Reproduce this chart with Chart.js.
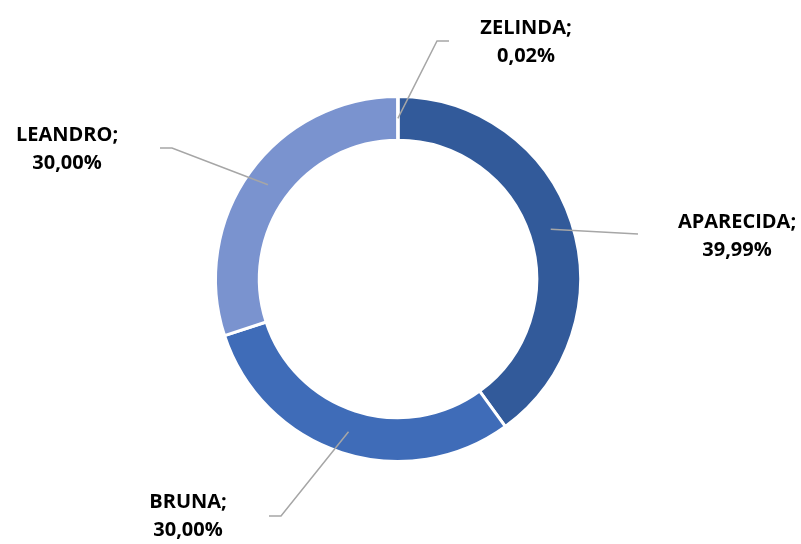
<!DOCTYPE html>
<html>
<head>
<meta charset="utf-8">
<script src="https://cdn.jsdelivr.net/npm/chart.js@4"></script>
<style>
    html, body { margin: 0; padding: 0; background: #fff; }
    #wrap { width: 801px; height: 544px; position: relative; }
</style>
</head>
<body>
<div id="wrap"><canvas id="chart"></canvas></div>
<script>
// Dados do gráfico
const nomes = ['APARECIDA', 'BRUNA', 'LEANDRO', 'ZELINDA'];
const percentuais = [39.99, 30.00, 30.00, 0.02];
const cores = ['#325A9A', '#3F6CB8', '#7A93CF', '#A9B8E0'];

// Posições dos rótulos (relativas ao centro do anel): cotovelo, fim da linha, texto
const rotulos = [
    { elbow: [240, -45], end: [240, -45], text: [339, -57], align: 'center' },
    { elbow: [-117, 237], end: [-129, 237], text: [-210, 223], align: 'center' },
    { elbow: [-226, -131], end: [-238, -131], text: [-331, -144], align: 'center' },
    { elbow: [39, -238], end: [51, -238], text: [128, -251], align: 'center' }
];

function formatPct(v) {
    return v.toFixed(2).replace('.', ',') + '%';
}

const labelsPlugin = {
    id: 'leaderLabels',
    afterDatasetsDraw(chart) {
        const ctx = chart.ctx;
        const arcs = chart.getDatasetMeta(0).data;
        ctx.save();
        arcs.forEach((arc, i) => {
            const p = arc.getProps(['x', 'y', 'startAngle', 'endAngle', 'innerRadius', 'outerRadius'], true);
            const mid = (p.startAngle + p.endAngle) / 2;
            const r = (p.innerRadius + p.outerRadius) / 2;
            const sx = p.x + Math.cos(mid) * r;
            const sy = p.y + Math.sin(mid) * r;
            const cfg = rotulos[i];

            ctx.strokeStyle = '#A6A6A6';
            ctx.lineWidth = 1.5;
            ctx.beginPath();
            ctx.moveTo(sx, sy);
            ctx.lineTo(p.x + cfg.elbow[0], p.y + cfg.elbow[1]);
            ctx.lineTo(p.x + cfg.end[0], p.y + cfg.end[1]);
            ctx.stroke();

            ctx.fillStyle = '#000';
            ctx.font = 'bold 20px "Open Sans", Lato, sans-serif';
            ctx.textAlign = cfg.align;
            ctx.textBaseline = 'middle';
            const tx = p.x + cfg.text[0];
            const ty = p.y + cfg.text[1];
            ctx.fillText(chart.data.labels[i] + ';', tx, ty);
            ctx.fillText(formatPct(chart.data.datasets[0].data[i]), tx, ty + 28);
        });
        ctx.restore();
    }
};

new Chart(document.getElementById('chart'), {
    type: 'doughnut',
    data: {
        labels: nomes,
        datasets: [{
            data: percentuais,
            backgroundColor: cores,
            borderColor: '#ffffff',
            borderWidth: 3
        }]
    },
    options: {
        responsive: true,
        maintainAspectRatio: false,
        animation: false,
        cutout: '76%',
        layout: { padding: { top: 95, bottom: 81, left: 0, right: 5 } },
        plugins: {
            legend: { display: false },
            tooltip: { enabled: false }
        }
    },
    plugins: [labelsPlugin]
});
</script>
</body>
</html>
